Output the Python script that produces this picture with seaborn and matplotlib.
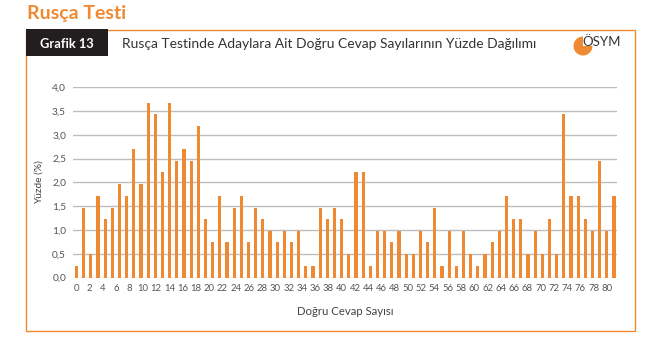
import numpy as np
import pandas as pd
import matplotlib
matplotlib.use("Agg")
import matplotlib.pyplot as plt
from matplotlib.patches import Rectangle, Wedge
from matplotlib.transforms import Affine2D
import seaborn as sns

# Percentage of candidates per bar
values = [0.25, 1.47, 0.49, 1.72, 1.23, 1.47, 1.96, 1.72, 2.70, 1.96,
          3.68, 3.43, 2.21, 3.68, 2.45, 2.70, 2.45, 3.19, 1.23, 0.74,
          1.72, 0.74, 1.47, 1.72, 0.74, 1.47, 1.23, 0.98, 0.74, 0.98,
          0.74, 0.98, 0.25, 0.25, 1.47, 1.23, 1.47, 1.23, 0.49, 2.21,
          2.21, 0.25, 0.98, 0.98, 0.74, 0.98, 0.49, 0.49, 0.98, 0.74,
          1.47, 0.25, 0.98, 0.25, 0.98, 0.49, 0.25, 0.49, 0.74, 0.98,
          1.72, 1.23, 1.23, 0.49, 0.98, 0.49, 1.23, 0.49, 3.43, 1.72,
          1.72, 1.23, 0.98, 2.45, 0.98, 1.72]
x_tick_labels = [str(v) for v in range(0, 81, 2)]
y_ticks = [0.0, 0.5, 1.0, 1.5, 2.0, 2.5, 3.0, 3.5, 4.0]

ORANGE = "#EF8A33"
FONT = ["Lato", "DejaVu Sans"]

sns.set_theme(style="white")
plt.rcParams["font.family"] = FONT

df = pd.DataFrame({"pos": np.arange(len(values)), "pct": values})

W, H = 650, 350
fig = plt.figure(figsize=(W / 100, H / 100), dpi=100)

def fx(px):
    return px / W

def fy(py):
    return 1 - py / H

# Outer frame
frame = Rectangle((fx(26.5), fy(331)), fx(635) - fx(26.5), fy(29.5) - fy(331),
                  transform=fig.transFigure, fill=False, edgecolor=ORANGE,
                  linewidth=1.0)
fig.add_artist(frame)

# Header block
hdr = Rectangle((fx(26.5), fy(56)), fx(108) - fx(26.5), fy(29.5) - fy(56),
                transform=fig.transFigure, facecolor="#221E1F", edgecolor="none")
fig.add_artist(hdr)
fig.text(fx(67), fy(44), "Grafik 13", color="white", fontsize=9.3,
         fontweight="bold", ha="center", va="center")
fig.text(fx(122), fy(44),
         "Rusça Testinde Adaylara Ait Doğru Cevap Sayılarının Yüzde Dağılımı",
         color="#333333", fontsize=10, ha="left", va="center")
fig.text(fx(27), fy(14), "Rusça Testi", color=ORANGE, fontsize=14,
         fontweight="bold", ha="left", va="center")

# Logo: three-quarter disc, open in the upper-right quadrant
# (pixel coordinates with y pointing down, so angles run clockwise on screen)
pix = Affine2D().scale(1, -1).translate(0, H)
logo = Wedge((583, 46), 9.5, 0, 270, transform=pix,
             facecolor=ORANGE, edgecolor="none")
fig.add_artist(logo)
fig.text(fx(582), fy(42), "ÖSYM", color="#333333", fontsize=9.5,
         ha="left", va="center")

# Chart
ax = fig.add_axes([fx(73), fy(277.5), fx(617) - fx(73), fy(87.3) - fy(277.5)])
sns.barplot(data=df, x="pos", y="pct", color=ORANGE, saturation=1,
            width=0.45, ax=ax, native_scale=True, edgecolor="none", zorder=3)

ax.set_xlim(-0.49, 75.42)
ax.set_ylim(0, 4.0)
ax.set_yticks(y_ticks)
ax.set_yticklabels([f"{t:.1f}".replace(".", ",") for t in y_ticks],
                   fontsize=7.3, color="#555555")
ax.set_xticks(np.linspace(0, 74, len(x_tick_labels)))
ax.set_xticklabels(x_tick_labels, fontsize=6.8, color="#555555")
ax.tick_params(axis="both", length=0, pad=5)
ax.yaxis.grid(True, color="#BDBDBD", linewidth=1.0, zorder=0)
ax.xaxis.grid(False)
for s in ax.spines.values():
    s.set_visible(False)
ax.set_xlabel("Doğru Cevap Sayısı", fontsize=8.2, color="#444444", labelpad=9)
ax.set_ylabel("Yüzde (%)", fontsize=7.3, color="#444444", labelpad=6)

fig.savefig("out.png", dpi=100)
